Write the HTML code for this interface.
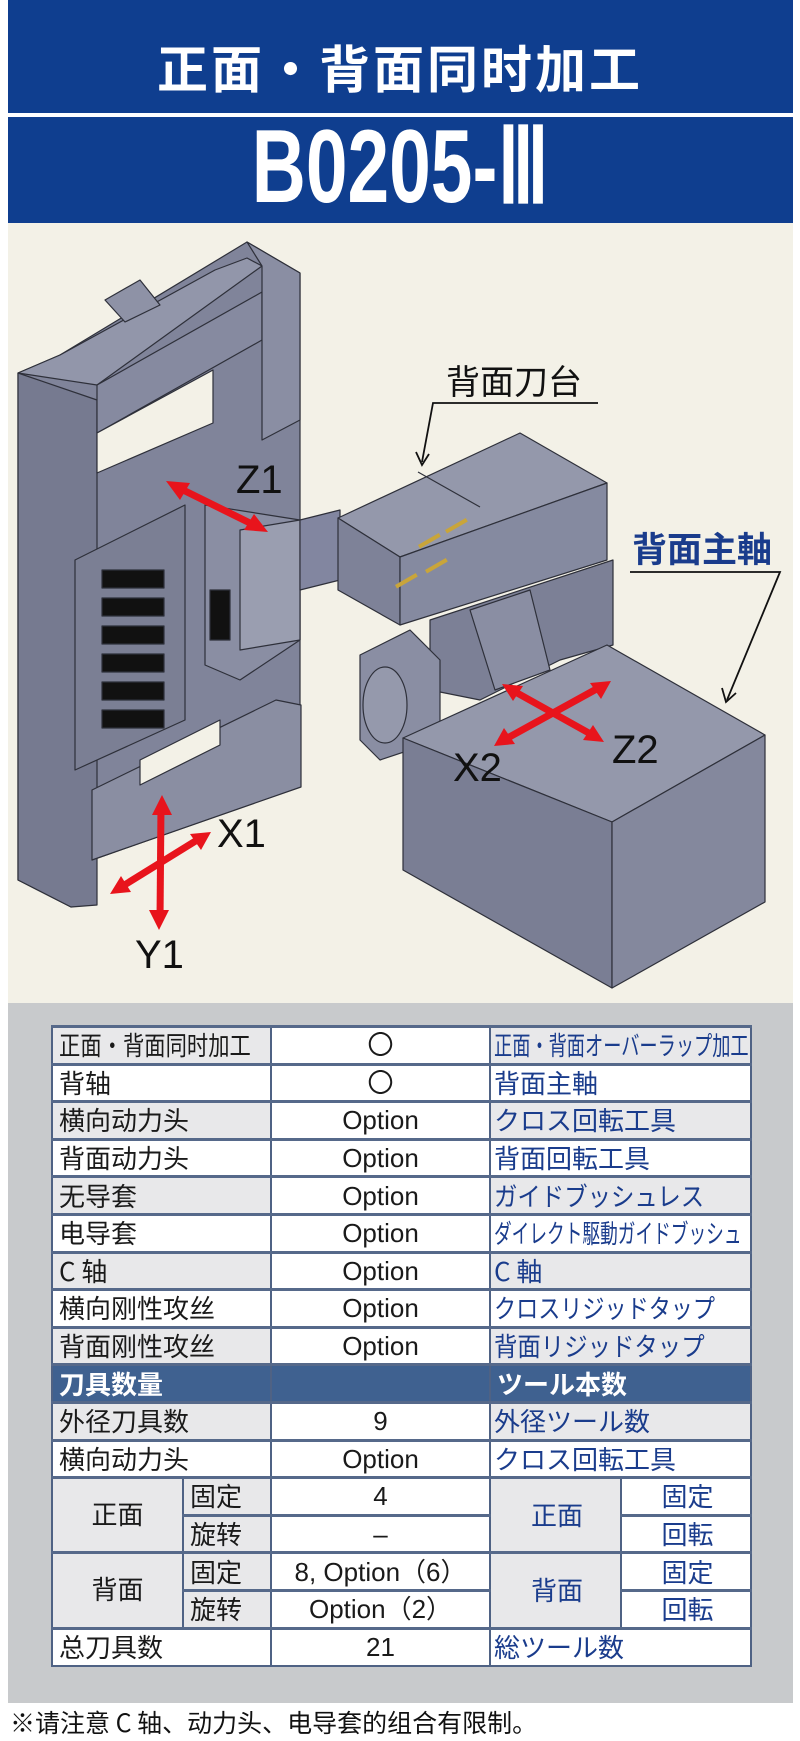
<!DOCTYPE html>
<html><head><meta charset="utf-8"><style>
*{margin:0;padding:0;box-sizing:border-box}
body{width:800px;height:1741px;background:#fff;position:relative;overflow:hidden;font-family:"Liberation Sans","Noto Sans CJK SC",sans-serif}
.hdr{position:absolute;left:8px;top:0;width:785px;height:223px;background:#0f3e8f}
.hline{position:absolute;left:8px;top:113px;width:785px;height:4px;background:#fff}
.t1{position:absolute;left:0;width:800px;top:36px;text-align:center;color:#fff;font:bold 51px "Noto Sans CJK SC",sans-serif;letter-spacing:3px;line-height:60px}
.t2{position:absolute;left:0;width:800px;top:112px;text-align:center;color:#fff;font:bold 104px "Liberation Sans",sans-serif;line-height:110px}
.t2 span{display:inline-block;transform:scaleX(0.72)}
.beige{position:absolute;left:8px;top:223px;width:785px;height:780px;background:#f3f1e7}
.gray{position:absolute;left:8px;top:1003px;width:785px;height:700px;background:#c8cacc}
table{position:absolute;left:51px;top:1025px;width:699px;border-collapse:collapse;table-layout:fixed}
td{height:37.6px;border:2px solid #4f6284;border-top:3px solid #56698a;font-size:26px;font-family:"Noto Sans CJK SC",sans-serif;color:#1a1a1a;padding:0 0 0 6px;white-space:nowrap;overflow:hidden;line-height:30px;background:#fff}
td.g{background:#e8e8ea}
td.c{text-align:center;padding:0;font-family:"Liberation Sans","Noto Sans CJK SC",sans-serif}
td.j{color:#1a3c8c;font-family:"Noto Sans CJK JP",sans-serif;padding-left:3px;font-size:26px}
td.j span,td.l span{display:inline-block;transform-origin:left center}
tr.h td{background:#3f6190;color:#fff;font-weight:bold}
.foot{position:absolute;left:10px;top:1704px;font:25px "Noto Sans CJK SC",sans-serif;color:#111;line-height:36px}
</style></head><body>
<div class="hdr"></div>
<div class="hline"></div>
<div class="t1">正面・背面同时加工</div>
<div class="t2"><span>B0205-Ⅲ</span></div>
<div class="beige"></div>
<svg style="position:absolute;left:0;top:0" width="800" height="1741" viewBox="0 0 800 1741">
<g stroke="#2e303a" stroke-width="1.2" stroke-linejoin="round">
<!-- left frame silhouette -->
<polygon points="18,373 60,355 247,242 300,273 300,787 92,860 71,907 18,880" fill="#80849a"/>
<polygon points="18,373 97,400 97,905 71,907 18,880" fill="#767a90"/>
<polygon points="18,373 60,355 215,270 247,258 262,266 97,385" fill="#9296aa"/>
<polygon points="97,385 262,292 262,340 97,433" fill="#868aa0"/>
<polygon points="247,242 300,273 300,420 262,440 262,266" fill="#8a8ea3"/>
<polygon points="97,433 213,370 213,423 97,473" fill="#f3f1e7"/>
<polygon points="105,300 140,280 160,305 125,322" fill="#8e92a6"/>
<polygon points="92,790 276,700 301,705 301,787 92,860" fill="#8a8ea2"/>
<polygon points="140,760 220,720 220,745 140,785" fill="#f3f1e7"/>
<!-- tool block on left -->
<polygon points="75,560 185,505 185,720 75,770" fill="#7b7f94"/>
<g fill="#111">
<rect x="102" y="570" width="62" height="18"/><rect x="102" y="598" width="62" height="18"/><rect x="102" y="626" width="62" height="18"/><rect x="102" y="654" width="62" height="18"/><rect x="102" y="682" width="62" height="18"/><rect x="102" y="710" width="62" height="18"/>
</g>
<polygon points="205,505 300,520 300,640 240,680 205,665" fill="#8a8ea3"/>
<polygon points="240,530 300,520 300,640 240,650" fill="#9a9eb0"/>
<polygon points="210,590 230,590 230,640 210,640" fill="#111"/>
<!-- middle connector -->
<polygon points="300,520 340,510 340,580 300,590" fill="#8286a0"/>
<!-- back tool post -->
<polygon points="430,620 613,560 613,645 560,660 480,700 430,690" fill="#7c8096"/>
<polygon points="470,610 530,590 550,670 495,690" fill="#8a8ea3"/>
<polygon points="338,518 520,433 607,483 400,557" fill="#9498ab"/>
<polygon points="338,518 400,557 400,625 338,590" fill="#7e8298"/>
<polygon points="400,557 607,483 607,560 400,625" fill="#858aa0"/>
<line x1="418" y1="472" x2="480" y2="507"/>
<!-- spindle cylinder -->
<polygon points="360,655 410,630 440,660 440,740 380,760 360,740" fill="#8a8ea3"/>
<ellipse cx="385" cy="705" rx="22" ry="38" fill="#9599ac"/>
<!-- big block -->
<polygon points="403,738 607,645 765,735 612,822" fill="#9498ab"/>
<polygon points="403,738 612,822 612,988 403,870" fill="#7a7e94"/>
<polygon points="612,822 765,735 765,902 612,988" fill="#84889d"/>
</g>
<g fill="#c9a53a"><rect x="418" y="545" width="24" height="4" transform="rotate(-30 418 545)"/><rect x="445" y="530" width="24" height="4" transform="rotate(-30 445 530)"/><rect x="395" y="585" width="24" height="4" transform="rotate(-30 395 585)"/><rect x="425" y="570" width="24" height="4" transform="rotate(-30 425 570)"/></g>
<!-- red arrows -->
<g stroke="#e8141c" stroke-width="7" fill="#e8141c">
<line x1="175" y1="486" x2="258" y2="527"/>
<line x1="161" y1="805" x2="160" y2="920"/>
<line x1="202" y1="837" x2="118" y2="889"/>
<line x1="602" y1="686" x2="502" y2="741"/>
<line x1="510" y1="689" x2="596" y2="737"/>
</g>
<g fill="#e8141c">
<polygon points="166,481 190,483 180,500"/><polygon points="268,532 244,530 254,514"/>
<polygon points="162,795 152,815 172,815"/><polygon points="159,930 149,910 169,910"/>
<polygon points="211,832 190,834 201,850"/><polygon points="110,894 131,892 121,876"/>
<polygon points="611,681 590,683 601,699"/><polygon points="494,746 515,744 504,728"/>
<polygon points="502,684 523,686 513,701"/><polygon points="604,742 583,740 593,725"/>
</g>
<g font-family="Liberation Sans,sans-serif" font-size="40" fill="#111">
<text x="236" y="493">Z1</text>
<text x="217" y="847">X1</text>
<text x="135" y="968">Y1</text>
<text x="612" y="763">Z2</text>
<text x="453" y="781">X2</text>
</g>
<g stroke="#111" stroke-width="1.8" fill="none">
<polyline points="598,403 433,403 422,462"/>
<polyline points="416,452 422,465 429,454"/>
<polyline points="630,572 780,572 727,700"/>
<polyline points="722,688 726,702 736,693"/>
</g>
<text x="446" y="394" font-family="Noto Sans CJK SC,sans-serif" font-size="34" fill="#111">背面刀台</text>
<text x="632" y="562" font-family="Noto Sans CJK JP,sans-serif" font-size="35" font-weight="bold" fill="#1a3c8c">背面主軸</text>
</svg>
<div class="gray"></div>
<table>
<colgroup><col style="width:131px"><col style="width:88px"><col style="width:219px"><col style="width:131px"><col style="width:130px"></colgroup>
<tr><td class="g l" colspan="2"><span style="transform:scaleX(.82)">正面・背面同时加工</span></td><td class="c">〇</td><td class="g j" colspan="2"><span style="transform:scaleX(.7)">正面・背面オーバーラップ加工</span></td></tr>
<tr><td colspan="2">背轴</td><td class="c">〇</td><td class="j" colspan="2">背面主軸</td></tr>
<tr><td class="g" colspan="2">横向动力头</td><td class="c">Option</td><td class="g j" colspan="2">クロス回転工具</td></tr>
<tr><td colspan="2">背面动力头</td><td class="c">Option</td><td class="j" colspan="2">背面回転工具</td></tr>
<tr><td class="g" colspan="2">无导套</td><td class="c">Option</td><td class="g j" colspan="2"><span style="transform:scaleX(.9)">ガイドブッシュレス</span></td></tr>
<tr><td colspan="2">电导套</td><td class="c">Option</td><td class="j" colspan="2"><span style="transform:scaleX(.68)">ダイレクト駆動ガイドブッシュ</span></td></tr>
<tr><td class="g" colspan="2">C 轴</td><td class="c">Option</td><td class="g j" colspan="2">C 軸</td></tr>
<tr><td colspan="2">横向刚性攻丝</td><td class="c">Option</td><td class="j" colspan="2"><span style="transform:scaleX(.85)">クロスリジッドタップ</span></td></tr>
<tr><td class="g" colspan="2">背面刚性攻丝</td><td class="c">Option</td><td class="g j" colspan="2"><span style="transform:scaleX(.9)">背面リジッドタップ</span></td></tr>
<tr class="h"><td colspan="2">刀具数量</td><td></td><td colspan="2">ツール本数</td></tr>
<tr><td class="g" colspan="2">外径刀具数</td><td class="c">9</td><td class="g j" colspan="2">外径ツール数</td></tr>
<tr><td colspan="2">横向动力头</td><td class="c">Option</td><td class="j" colspan="2">クロス回転工具</td></tr>
<tr><td class="g c" rowspan="2">正面</td><td class="g">固定</td><td class="c">4</td><td class="g j c" rowspan="2">正面</td><td class="j c">固定</td></tr>
<tr><td class="g">旋转</td><td class="c">–</td><td class="j c">回転</td></tr>
<tr><td class="g c" rowspan="2">背面</td><td class="g">固定</td><td class="c">8, Option（6）</td><td class="g j c" rowspan="2">背面</td><td class="j c">固定</td></tr>
<tr><td class="g">旋转</td><td class="c">Option（2）</td><td class="j c">回転</td></tr>
<tr><td colspan="2">总刀具数</td><td class="c">21</td><td class="j" colspan="2">総ツール数</td></tr>
</table>
<div class="foot">※请注意 C 轴、动力头、电导套的组合有限制。</div>
</body></html>
